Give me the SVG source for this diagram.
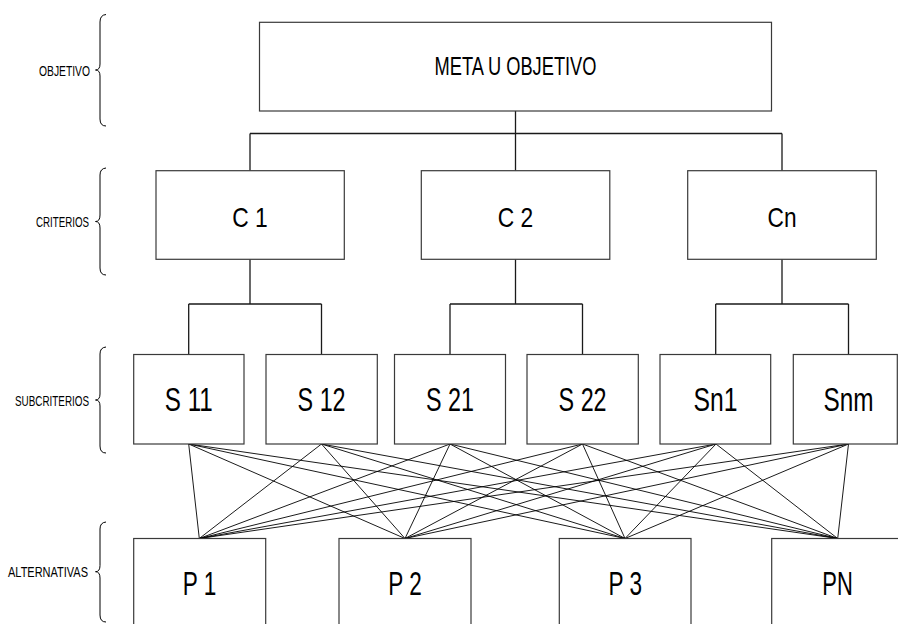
<svg xmlns="http://www.w3.org/2000/svg" width="898" height="624" viewBox="0 0 898 624">
  <style>
    .box { fill: #ffffff; stroke: #3a3a3a; stroke-width: 1.2; }
    .lbl { font-family: "Liberation Sans", Arial, sans-serif; fill: #000; text-anchor: middle; }
    .side { font-family: "Liberation Sans", Arial, sans-serif; font-size: 14px; fill: #000; text-anchor: end; }
    .brace { fill: none; stroke: #000; stroke-width: 1; }
    .tree { fill: none; stroke: #1a1a1a; stroke-width: 1.3; }
    .mesh { fill: none; stroke: #000; stroke-width: 0.9; }
  </style>
  <rect width="898" height="624" fill="#ffffff"/>

  <!-- level labels with braces -->
  <g id="level-labels">
    <text class="side" x="90" y="75.5" textLength="51" lengthAdjust="spacingAndGlyphs">OBJETIVO</text>
    <path class="brace" d="M106,14.5 Q100,15 100,22 L100,64 Q100,70 95.5,70 Q100,70 100,76 L100,119 Q100,126 106,126"/>
    <text class="side" x="89" y="226.5" textLength="53" lengthAdjust="spacingAndGlyphs">CRITERIOS</text>
    <path class="brace" d="M106,168 Q100,168.5 100,175 L100,215 Q100,221.5 95.5,221.5 Q100,221.5 100,228 L100,268 Q100,275 106,275"/>
    <text class="side" x="89" y="405.5" textLength="74" lengthAdjust="spacingAndGlyphs">SUBCRITERIOS</text>
    <path class="brace" d="M106,347 Q100,347.5 100,354 L100,394 Q100,400 95.5,400 Q100,400 100,406 L100,446 Q100,453 106,453"/>
    <text class="side" x="88" y="577" textLength="80" lengthAdjust="spacingAndGlyphs">ALTERNATIVAS</text>
    <path class="brace" d="M106,522 Q100,522.5 100,529 L100,565.5 Q100,571.7 95.5,571.7 Q100,571.7 100,578 L100,615 Q100,622 106,622"/>
  </g>

  <!-- connectors -->
  <g id="connectors">
    <!-- goal to criteria -->
    <path class="tree" d="M515.5,111 V133.5 M250,133.5 H782 M250,133.5 V170.7 M515.5,133.5 V170.7 M782,133.5 V170.7"/>
    <!-- criteria to subcriteria -->
    <path class="tree" d="M250,259.3 V304 M188.7,304 H321.5 M188.7,304 V354.5 M321.5,304 V354.5"/>
    <path class="tree" d="M515.5,259.3 V304 M450,304 H582.5 M450,304 V354.5 M582.5,304 V354.5"/>
    <path class="tree" d="M782,259.3 V304 M715.7,304 H848.5 M715.7,304 V354.5 M848.5,304 V354.5"/>
    <!-- every subcriterion to every alternative -->
    <path class="mesh" d="
      M188.7,444 L199.3,538.5 M188.7,444 L405,538.5 M188.7,444 L625,538.5 M188.7,444 L837.7,538.5
      M321.5,444 L199.3,538.5 M321.5,444 L405,538.5 M321.5,444 L625,538.5 M321.5,444 L837.7,538.5
      M450,444 L199.3,538.5 M450,444 L405,538.5 M450,444 L625,538.5 M450,444 L837.7,538.5
      M582.5,444 L199.3,538.5 M582.5,444 L405,538.5 M582.5,444 L625,538.5 M582.5,444 L837.7,538.5
      M716,444 L199.3,538.5 M716,444 L405,538.5 M716,444 L625,538.5 M716,444 L837.7,538.5
      M848.5,444 L199.3,538.5 M848.5,444 L405,538.5 M848.5,444 L625,538.5 M848.5,444 L837.7,538.5"/>
  </g>

  <!-- goal -->
  <g id="goal">
    <rect class="box" x="259.5" y="22.3" width="512" height="88.7"/>
    <text class="lbl" x="515.5" y="75" font-size="25" textLength="162" lengthAdjust="spacingAndGlyphs">META U OBJETIVO</text>
  </g>

  <!-- criteria -->
  <g id="c1">
    <rect class="box" x="156" y="170.7" width="188.3" height="88.6"/>
    <text class="lbl" x="250" y="226.7" font-size="28" textLength="35.5" lengthAdjust="spacingAndGlyphs">C 1</text>
  </g>
  <g id="c2">
    <rect class="box" x="421.3" y="170.7" width="188.5" height="88.6"/>
    <text class="lbl" x="515.5" y="226.7" font-size="28" textLength="35.5" lengthAdjust="spacingAndGlyphs">C 2</text>
  </g>
  <g id="cn">
    <rect class="box" x="687.7" y="170.7" width="188.6" height="88.6"/>
    <text class="lbl" x="782" y="226.7" font-size="28" textLength="29" lengthAdjust="spacingAndGlyphs">Cn</text>
  </g>

  <!-- subcriteria -->
  <g id="s11">
    <rect class="box" x="133.7" y="354.5" width="110.3" height="89.5"/>
    <text class="lbl" x="188.8" y="411" font-size="33" textLength="48" lengthAdjust="spacingAndGlyphs">S 11</text>
  </g>
  <g id="s12">
    <rect class="box" x="266" y="354.5" width="111.3" height="89.5"/>
    <text class="lbl" x="321.6" y="411" font-size="33" textLength="48" lengthAdjust="spacingAndGlyphs">S 12</text>
  </g>
  <g id="s21">
    <rect class="box" x="394.5" y="354.5" width="111" height="89.5"/>
    <text class="lbl" x="450" y="411" font-size="33" textLength="48" lengthAdjust="spacingAndGlyphs">S 21</text>
  </g>
  <g id="s22">
    <rect class="box" x="527" y="354.5" width="111.3" height="89.5"/>
    <text class="lbl" x="582.6" y="411" font-size="33" textLength="48" lengthAdjust="spacingAndGlyphs">S 22</text>
  </g>
  <g id="sn1">
    <rect class="box" x="660" y="354.5" width="110.7" height="89.5"/>
    <text class="lbl" x="715.4" y="411" font-size="33" textLength="44" lengthAdjust="spacingAndGlyphs">Sn1</text>
  </g>
  <g id="snm">
    <rect class="box" x="793.3" y="354.5" width="104" height="89.5"/>
    <text class="lbl" x="848.6" y="411" font-size="33" textLength="50" lengthAdjust="spacingAndGlyphs">Snm</text>
  </g>

  <!-- alternatives -->
  <g id="p1">
    <rect class="box" x="133.7" y="538.5" width="132" height="100"/>
    <text class="lbl" x="199.5" y="595" font-size="34" textLength="33.5" lengthAdjust="spacingAndGlyphs">P 1</text>
  </g>
  <g id="p2">
    <rect class="box" x="339" y="538.5" width="132" height="100"/>
    <text class="lbl" x="405" y="595" font-size="34" textLength="33.5" lengthAdjust="spacingAndGlyphs">P 2</text>
  </g>
  <g id="p3">
    <rect class="box" x="559.3" y="538.5" width="131.7" height="100"/>
    <text class="lbl" x="625.2" y="595" font-size="34" textLength="33.5" lengthAdjust="spacingAndGlyphs">P 3</text>
  </g>
  <g id="pn">
    <rect class="box" x="771.7" y="538.5" width="132" height="100"/>
    <text class="lbl" x="837.5" y="595" font-size="34" textLength="30.5" lengthAdjust="spacingAndGlyphs">PN</text>
  </g>
</svg>
